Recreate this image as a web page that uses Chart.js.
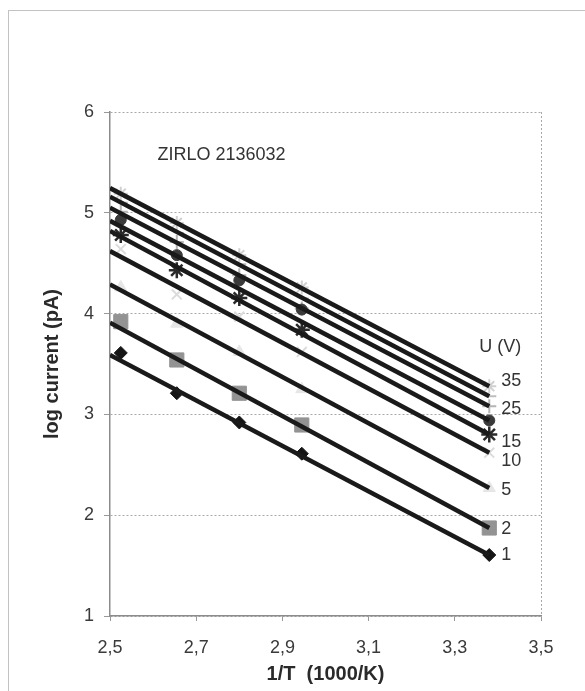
<!DOCTYPE html>
<html>
<head>
<meta charset="utf-8">
<script src="https://cdn.jsdelivr.net/npm/chart.js@4.4.0/dist/chart.umd.min.js"></script>
<style>
  html, body { margin: 0; padding: 0; background: #fff; }
  #wrap { position: relative; width: 585px; height: 691px; overflow: hidden; }
  #frame { position: absolute; left: 8px; top: 10px; width: 620px; height: 720px;
           border-left: 1px solid #c2c2c2; border-top: 1px solid #c2c2c2; }
  canvas { position: absolute; left: 0; top: 0; }
</style>
</head>
<body>
<div id="wrap">
  <div id="frame"></div>
  <canvas id="chart" width="585" height="691"></canvas>
</div>
<script>
// 1/T (1000/K) of the five measurement temperatures
const invT = [2.525, 2.655, 2.80, 2.945, 3.38];
const voltages = [1, 2, 5, 10, 15, 20, 25, 30, 35];

// log current (pA), one array per voltage U (V)
const logI_1  = [3.61, 3.21, 2.92, 2.61, 1.605];
const logI_2  = [3.92, 3.54, 3.21, 2.895, 1.873];
const logI_5  = [4.26, 3.90, 3.62, 3.25, 2.27];
const logI_10 = [4.64, 4.19, 3.97, 3.62, 2.62];
const logI_15 = [4.78, 4.43, 4.155, 3.84, 2.80];
const logI_20 = [4.93, 4.58, 4.33, 4.04, 2.94];
const logI_25 = [5.01, 4.71, 4.38, 4.05, 3.08];
const logI_30 = [5.10, 4.80, 4.49, 4.15, 3.18];
const logI_35 = [5.19, 4.90, 4.58, 4.26, 3.28];

// linear trendlines, value at 1/T = 2.5 and at the last point
const fitStart = [3.59, 3.91, 4.29, 4.62, 4.82, 4.92, 5.05, 5.16, 5.245];
const fitEnd   = [1.605, 1.873, 2.27, 2.62, 2.80, 2.94, 3.08, 3.18, 3.28];

const xTicks = [2.5, 2.7, 2.9, 3.1, 3.3, 3.5];
const yTicks = [1, 2, 3, 4, 5, 6];

const series = [logI_1, logI_2, logI_5, logI_10, logI_15, logI_20, logI_25, logI_30, logI_35];
const labelled = [35, 25, 15, 10, 5, 2, 1];
const labelNudge = { 35: -5, 25: 3, 15: 7, 10: 8, 5: 2, 2: 1, 1: 0 };

const markers = [
    { style: 'rectRot',  fill: '#151515', line: '#151515', r: 6.5, w: 1 },
    { style: 'rect',     fill: '#939393', line: '#939393', r: 10,  w: 1 },
    { style: 'triangle', fill: '#e6e6e6', line: '#e6e6e6', r: 7,   w: 1 },
    { style: 'crossRot', fill: '#dcdcdc', line: '#dcdcdc', r: 7,   w: 2 },
    { style: 'star',     fill: '#2a2a2a', line: '#2a2a2a', r: 8,   w: 2.5 },
    { style: 'circle',   fill: '#3a3a3a', line: '#3a3a3a', r: 5.5, w: 1 },
    { style: 'cross',    fill: '#b4b4b4', line: '#b4b4b4', r: 7,   w: 2 },
    { style: 'dash',     fill: '#bdbdbd', line: '#bdbdbd', r: 7,   w: 2 },
    { style: 'star',     fill: '#d0d0d0', line: '#d0d0d0', r: 7,   w: 2 }
];

const FONT = "'Liberation Sans', Arial, sans-serif";

const datasets = [];
voltages.forEach((u, i) => {
    const m = markers[i];
    datasets.push({
        label: u + ' V',
        data: invT.map((x, j) => ({ x: x, y: series[i][j] })),
        showLine: false,
        pointStyle: m.style,
        pointRadius: m.r,
        pointBackgroundColor: m.fill,
        pointBorderColor: m.line,
        pointBorderWidth: m.w,
        order: 2
    });
    datasets.push({
        label: u + ' V fit',
        data: [{ x: 2.5, y: fitStart[i] }, { x: invT[invT.length - 1], y: fitEnd[i] }],
        showLine: true,
        borderColor: '#1a1a1a',
        borderWidth: 4.5,
        pointRadius: 0,
        order: 1
    });
});

const textPlugin = {
    id: 'texts',
    afterDatasetsDraw(chart) {
        const ctx = chart.ctx;
        const xs = chart.scales.x, ys = chart.scales.y;
        ctx.save();
        ctx.fillStyle = '#333';
        ctx.font = '18px ' + FONT;
        ctx.textAlign = 'left';
        ctx.textBaseline = 'middle';
        ctx.fillText('ZIRLO 2136032', xs.getPixelForValue(2.61), ys.getPixelForValue(5.57));

        const lastX = xs.getPixelForValue(invT[invT.length - 1]);
        let topY = null;
        labelled.forEach(u => {
            const i = voltages.indexOf(u);
            const y = ys.getPixelForValue(fitEnd[i]) + labelNudge[u];
            if (topY === null) topY = y;
            ctx.fillText(String(u), lastX + 12, y);
        });
        ctx.fillText('U (V)', lastX - 10, topY - 34);
        ctx.restore();
    }
};

new Chart(document.getElementById('chart'), {
    type: 'scatter',
    data: { datasets: datasets },
    options: {
        responsive: false,
        animation: false,
        devicePixelRatio: 1,
        layout: { padding: { top: 112, right: 44, left: 0, bottom: 0 } },
        plugins: { legend: { display: false }, tooltip: { enabled: false } },
        scales: {
            x: {
                type: 'linear',
                min: 2.5,
                max: 3.5,
                afterBuildTicks: s => { s.ticks = xTicks.map(v => ({ value: v })); },
                afterFit: s => { s.height = 75; },
                ticks: {
                    color: '#3a3a3a',
                    font: { family: FONT, size: 18 },
                    padding: 16,
                    callback: v => v.toFixed(1).replace('.', ',')
                },
                grid: {
                    color: c => (c.tick && c.tick.value === 3.5) ? '#a8a8a8' : 'rgba(0,0,0,0)',
                    tickColor: '#999',
                    tickLength: 5,
                    lineWidth: 1
                },
                border: { color: '#8c8c8c', width: 1.5, dash: [2, 2] },
                title: {
                    display: true,
                    text: '1/T  (1000/K)',
                    color: '#2a2a2a',
                    font: { family: FONT, size: 20, weight: 'bold' },
                    padding: { top: 0, bottom: 5 }
                }
            },
            y: {
                type: 'linear',
                min: 1,
                max: 6,
                afterBuildTicks: s => { s.ticks = yTicks.map(v => ({ value: v })); },
                afterFit: s => { s.width = 110; },
                ticks: {
                    color: '#3a3a3a',
                    font: { family: FONT, size: 18 },
                    padding: 10,
                    callback: v => String(v)
                },
                grid: {
                    color: '#a8a8a8',
                    tickColor: '#999',
                    tickLength: 6,
                    lineWidth: 1
                },
                border: { color: '#8c8c8c', width: 1.5, dash: [2, 2] },
                title: {
                    display: true,
                    text: 'log current (pA)',
                    color: '#2a2a2a',
                    font: { family: FONT, size: 20, weight: 'bold' },
                    padding: { top: 40, bottom: 0 }
                }
            }
        }
    },
    plugins: [textPlugin]
});
</script>
</body>
</html>
